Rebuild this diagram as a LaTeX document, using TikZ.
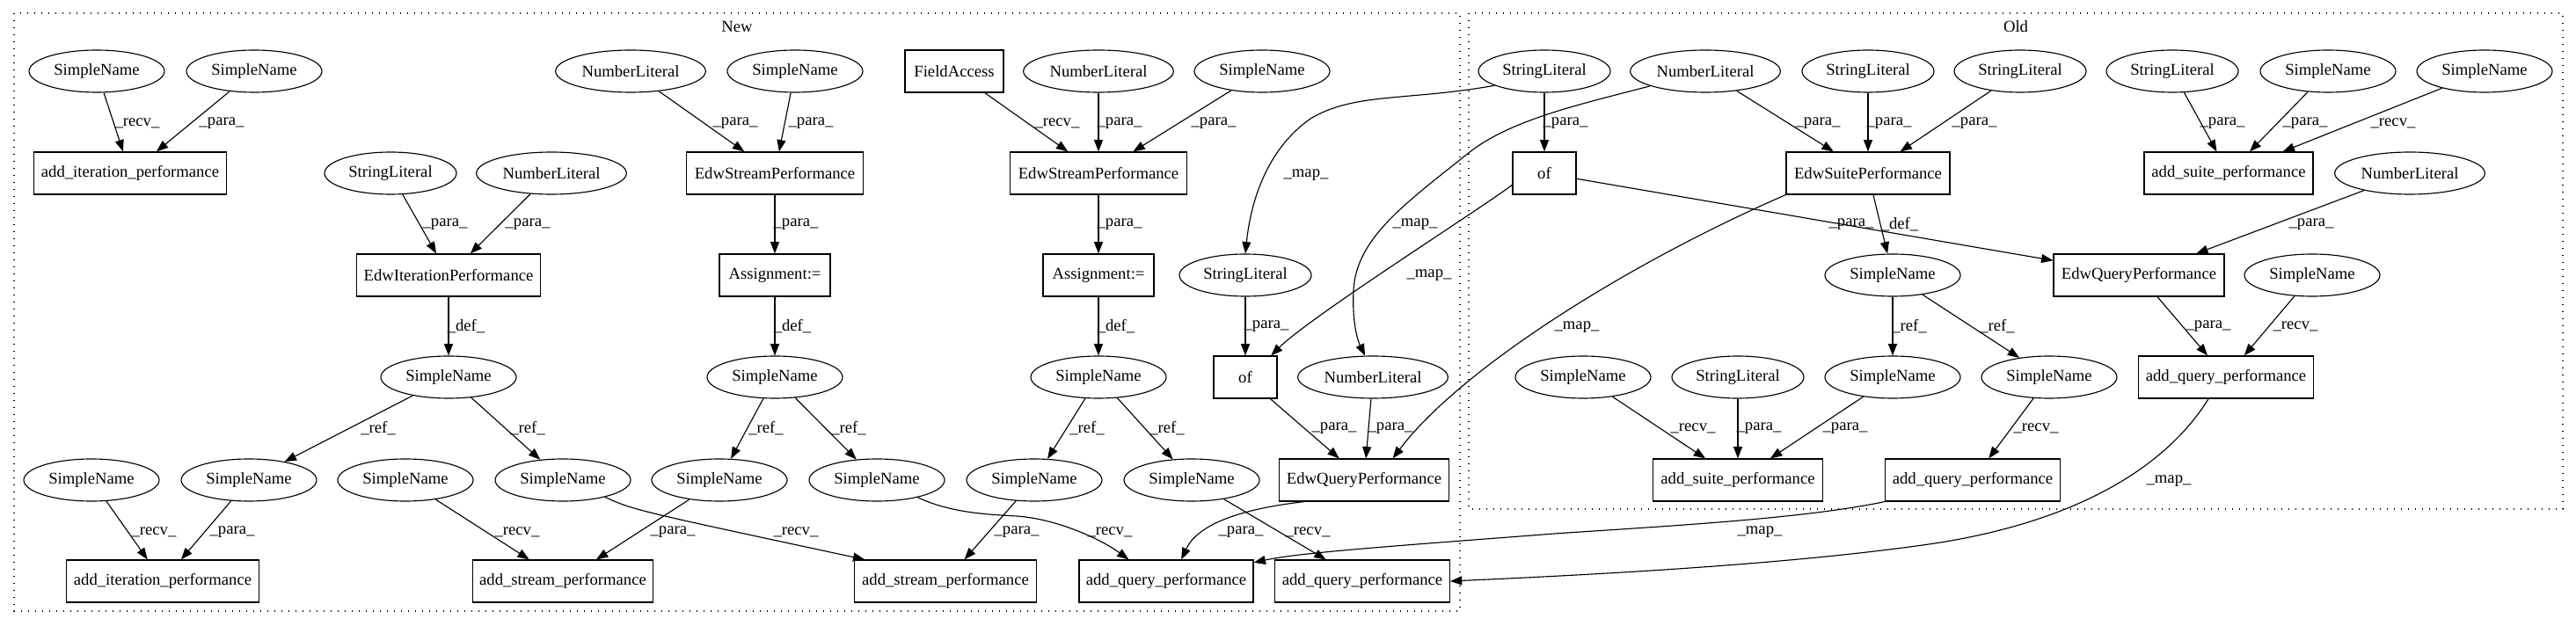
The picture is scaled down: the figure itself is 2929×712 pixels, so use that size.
\documentclass[tikz,border=0pt]{standalone}
\usepackage{fontspec}
\setmainfont{Liberation Serif}
\usetikzlibrary{shapes.geometric,arrows.meta}
\begin{document}
\begin{tikzpicture}[x=0.75pt,y=-0.75pt,
 base/.style={draw, line width=0.85pt, font=\fontsize{14}{16}\selectfont, inner sep=0pt, minimum height=36pt},
 ell/.style={base, ellipse},
 rbox/.style={base, rectangle},
 sn/.style={ell, minimum width=115.5pt},
 sl/.style={ell, minimum width=112.5pt},
 nl/.style={ell, minimum width=128pt},
 e/.style={line width=0.85pt, -{Triangle[length=10pt,width=7.5pt]}},
 lbl/.style={font=\fontsize{14}{16}\selectfont, inner sep=0pt},
 clus/.style={line width=1pt, dash pattern=on 1pt off 5pt},
]
\useasboundingbox (0,0) rectangle (2929,712);
% clusters
\draw[clus] (16,15) rectangle (1660,695);
\node[lbl] (newlbl) at (838,30) {New};
\draw[clus] (1670,15) rectangle (2914,579);
\node[lbl] (oldlbl) at (2292,30) {Old};

% ---- New nodes
\node[sn] (sna) at (110,81) {SimpleName};
\node[sn] (snb) at (289,81) {SimpleName};
\node[rbox, minimum width=164pt] (aip1) at (148,197) {add\_iteration\_performance};
\node[sl] (sl1) at (444,197) {StringLiteral};
\node[nl] (nl1) at (627,197) {NumberLiteral};
\node[rbox, minimum width=157pt] (eip) at (510,313) {EdwIterationPerformance};
\node[sn] (snc) at (510,429) {SimpleName};
\node[sn] (snd) at (104,546) {SimpleName};
\node[sn] (sne) at (283,546) {SimpleName};
\node[sn] (snf) at (461,546) {SimpleName};
\node[sn] (sng) at (640,546) {SimpleName};
\node[rbox, minimum width=164pt] (aip2) at (185,661) {add\_iteration\_performance};
\node[rbox, minimum width=154pt] (asp1) at (640,661) {add\_stream\_performance};
\node[nl] (nl2) at (717,81) {NumberLiteral};
\node[sn] (snh) at (904,81) {SimpleName};
\node[rbox, minimum width=151pt] (esp1) at (881,197) {EdwStreamPerformance};
\node[rbox, minimum width=94.5pt] (as1) at (881,313) {Assignment:=};
\node[sn] (snj) at (881,429) {SimpleName};
\node[sn] (snl) at (818,546) {SimpleName};
\node[sn] (snm) at (997,546) {SimpleName};
\node[rbox, minimum width=155pt] (asp2) at (1075,661) {add\_stream\_performance};
\node[rbox, minimum width=84pt] (fa) at (1085,81) {FieldAccess};
\node[nl] (nl3) at (1249,81) {NumberLiteral};
\node[sn] (sni) at (1435,81) {SimpleName};
\node[rbox, minimum width=151pt] (esp2) at (1249,197) {EdwStreamPerformance};
\node[rbox, minimum width=94.5pt] (as2) at (1249,313) {Assignment:=};
\node[sn] (snk) at (1249,429) {SimpleName};
\node[sn] (snn) at (1176,546) {SimpleName};
\node[sn] (sno) at (1355,546) {SimpleName};
\node[rbox, minimum width=148.5pt] (aqp1) at (1326,661) {add\_query\_performance};
\node[sl] (sl2) at (1416,313) {StringLiteral};
\node[rbox, minimum width=54pt] (of1) at (1416,429) {of};
\node[nl] (nl4) at (1561,429) {NumberLiteral};
\node[rbox, minimum width=145pt] (eqp1) at (1551,546) {EdwQueryPerformance};
\node[rbox, minimum width=149pt] (aqp2) at (1549,661) {add\_query\_performance};

% ---- Old nodes
\node[sl] (slo1) at (1756,81) {StringLiteral};
\node[nl] (nlo1) at (1939,81) {NumberLiteral};
\node[sl] (slo2) at (2124,81) {StringLiteral};
\node[sl] (slo3) at (2297,81) {StringLiteral};
\node[sl] (slo5) at (2470,81) {StringLiteral};
\node[sn] (sno4) at (2647,81) {SimpleName};
\node[sn] (sno5) at (2825,81) {SimpleName};
\node[rbox, minimum width=54pt] (of2) at (1756,197) {of};
\node[rbox, minimum width=139.5pt] (esup) at (2124,197) {EdwSuitePerformance};
\node[rbox, minimum width=144pt] (asup1) at (2534,197) {add\_suite\_performance};
\node[nl] (nlo2) at (2740,197) {NumberLiteral};
\node[sn] (sno1) at (2152,313) {SimpleName};
\node[rbox, minimum width=145.5pt] (eqpo) at (2432,313) {EdwQueryPerformance};
\node[sn] (sno6) at (2629,313) {SimpleName};
\node[sn] (sno2) at (1800,429) {SimpleName};
\node[sl] (slo4) at (1976,429) {StringLiteral};
\node[sn] (sno3) at (2152,429) {SimpleName};
\node[sn] (sno7) at (2330,429) {SimpleName};
\node[rbox, minimum width=149pt] (aqpo1) at (2531,429) {add\_query\_performance};
\node[rbox, minimum width=145pt] (asup2) at (1976,546) {add\_suite\_performance};
\node[rbox, minimum width=149pt] (aqpo2) at (2243,546) {add\_query\_performance};

% ---- New edges
\draw[e] (sna) -- (aip1);  \node[lbl] (l1) at (156,140) {\_recv\_};
\draw[e] (snb) -- (aip1);  \node[lbl] (l2) at (252,140) {\_para\_};
\draw[e] (sl1) -- (eip);   \node[lbl] (l3) at (506,255) {\_para\_};
\draw[e] (nl1) -- (eip);   \node[lbl] (l4) at (600,255) {\_para\_};
\draw[e] (eip) -- (snc);   \node[lbl] (l5) at (530,371) {\_def\_};
\draw[e] (snc) -- (sne);   \node[lbl] (l6) at (430,487) {\_ref\_};
\draw[e] (snc) -- (sng);   \node[lbl] (l7) at (600,487) {\_ref\_};
\draw[e] (snd) -- (aip2);  \node[lbl] (l8) at (175,605) {\_recv\_};
\draw[e] (sne) -- (aip2);  \node[lbl] (l9) at (264,605) {\_para\_};
\draw[e] (snf) -- (asp1);  \node[lbl] (l10) at (588,605) {\_recv\_};
\draw[e] (snl) -- (asp1);  \node[lbl] (l11) at (765,605) {\_para\_};
\draw[e] (sng.-22) .. controls (720,580) .. (asp2.165); \node[lbl] (l12) at (905,605) {\_recv\_};
\draw[e] (nl2) -- (esp1);  \node[lbl] (l13) at (836,140) {\_para\_};
\draw[e] (snh) -- (esp1);  \node[lbl] (l14) at (922,140) {\_para\_};
\draw[e] (esp1) -- (as1);  \node[lbl] (l15) at (905,255) {\_para\_};
\draw[e] (as1) -- (snj);   \node[lbl] (l16) at (901,371) {\_def\_};
\draw[e] (snj) -- (snl);   \node[lbl] (l17) at (871,487) {\_ref\_};
\draw[e] (snj) -- (snm);   \node[lbl] (l18) at (965,487) {\_ref\_};
\draw[e] (snn) -- (asp2);  \node[lbl] (l19) at (1156,605) {\_para\_};
\draw[e] (snm.-23) .. controls (1080,583) and (1120,585) .. (1156,587) .. controls (1200,590) and (1250,612) .. (aqp1.150);
\node[lbl] (l20) at (1262,605) {\_recv\_};
\draw[e] (fa) -- (esp2);   \node[lbl] (l21) at (1202,140) {\_recv\_};
\draw[e] (nl3) -- (esp2);  \node[lbl] (l22) at (1273,140) {\_para\_};
\draw[e] (sni) -- (esp2);  \node[lbl] (l23) at (1380,140) {\_para\_};
\draw[e] (esp2) -- (as2);  \node[lbl] (l24) at (1273,255) {\_para\_};
\draw[e] (as2) -- (snk);   \node[lbl] (l25) at (1269,371) {\_def\_};
\draw[e] (snk) -- (snn);   \node[lbl] (l26) at (1236,487) {\_ref\_};
\draw[e] (snk) -- (sno);   \node[lbl] (l27) at (1327,487) {\_ref\_};
\draw[e] (sno) -- (aqp2);  \node[lbl] (l28) at (1487,605) {\_recv\_};
\draw[e] (eqp1.200) .. controls (1400,580) and (1360,600) .. (aqp1.55);
\node[lbl] (l29) at (1411,605) {\_para\_};
\draw[e] (sl2) -- (of1);   \node[lbl] (l30) at (1440,371) {\_para\_};
\draw[e] (of1) -- (eqp1);  \node[lbl] (l31) at (1517,487) {\_para\_};
\draw[e] (nl4) -- (eqp1);  \node[lbl] (l32) at (1581,487) {\_para\_};

% ---- cross edges
\draw[e] (slo1.196) .. controls (1600,115) and (1540,105) .. (1490,135) .. controls (1440,170) and (1422,230) .. (sl2.north);
\node[lbl] (l33) at (1485,199) {\_map\_};
\draw[e] (nlo1.195) .. controls (1800,118) and (1720,135) .. (1671,173) .. controls (1600,230) and (1542,270) .. (1539,330) .. controls (1537,370) and (1545,390) .. (nl4.110);
\node[lbl] (l34) at (1609,255) {\_map\_};
\draw[e] (of2.200) .. controls (1680,240) and (1490,360) .. (of1.40);
\node[lbl] (l35) at (1625,313) {\_map\_};
\draw[e] (esup.south west) .. controls (1850,300) and (1660,420) .. (eqp1.37);
\node[lbl] (l36) at (1793,372) {\_map\_};
\draw[e] (aqpo2.south west) .. controls (2050,590) and (1900,598) .. (1767,607) .. controls (1600,620) and (1480,628) .. (aqp1.12);
\node[lbl] (l37) at (2001,605) {\_map\_};
\draw[e] (aqpo1.231) .. controls (2470,520) and (2380,590) .. (2200,618) .. controls (2050,640) and (1850,652) .. (aqp2.east);
\node[lbl] (l38) at (2466,547) {\_map\_};

% ---- Old edges
\draw[e] (slo1) -- (of2);  \node[lbl] (l39) at (1780,140) {\_para\_};
\draw[e] (nlo1) -- (esup); \node[lbl] (l40) at (2067,140) {\_para\_};
\draw[e] (slo2) -- (esup); \node[lbl] (l41) at (2148,140) {\_para\_};
\draw[e] (slo3) -- (esup); \node[lbl] (l42) at (2245,140) {\_para\_};
\draw[e] (of2) -- (eqpo);  \node[lbl] (l43) at (2105,255) {\_para\_};
\draw[e] (esup) -- (sno1); \node[lbl] (l44) at (2160,255) {\_def\_};
\draw[e] (slo5) -- (asup1); \node[lbl] (l45) at (2527,140) {\_para\_};
\draw[e] (sno4) -- (asup1); \node[lbl] (l46) at (2621,140) {\_para\_};
\draw[e] (sno5) -- (asup1); \node[lbl] (l47) at (2721,140) {\_recv\_};
\draw[e] (nlo2) -- (eqpo); \node[lbl] (l48) at (2628,255) {\_para\_};
\draw[e] (sno1) -- (sno3); \node[lbl] (l49) at (2171,371) {\_ref\_};
\draw[e] (sno1) -- (sno7); \node[lbl] (l50) at (2271,371) {\_ref\_};
\draw[e] (eqpo) -- (aqpo1); \node[lbl] (l51) at (2511,371) {\_para\_};
\draw[e] (sno6) -- (aqpo1); \node[lbl] (l52) at (2610,371) {\_recv\_};
\draw[e] (sno2) -- (asup2); \node[lbl] (l53) at (1925,487) {\_recv\_};
\draw[e] (slo4) -- (asup2); \node[lbl] (l54) at (2000,487) {\_para\_};
\draw[e] (sno3) -- (asup2); \node[lbl] (l55) at (2098,487) {\_para\_};
\draw[e] (sno7) -- (aqpo2); \node[lbl] (l56) at (2315,487) {\_recv\_};
\end{tikzpicture}
\end{document}
